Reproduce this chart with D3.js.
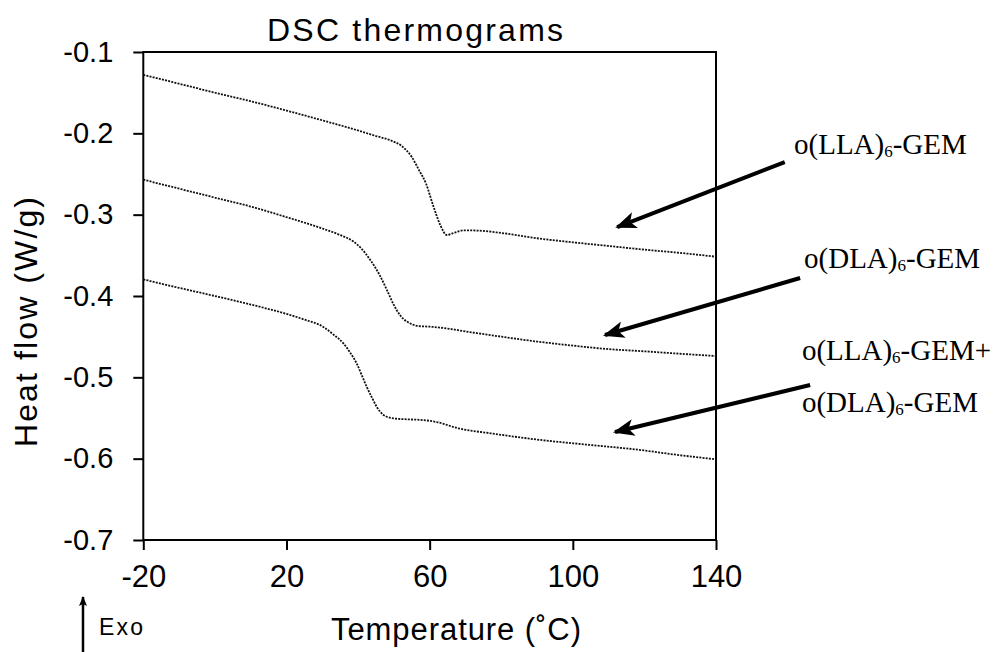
<!DOCTYPE html>
<html><head><meta charset="utf-8">
<script src="https://cdn.jsdelivr.net/npm/d3@7"></script>
<style>
html,body{margin:0;padding:0;background:#fff;}
svg{display:block;}
</style></head>
<body>
<svg id="chart" width="997" height="652"></svg>
<script>
// ---- data ----
const chartTitle = "DSC thermograms";
const xTicks = [-20, 20, 60, 100, 140];
const xTickLabels = ["-20", "20", "60", "100", "140"];
const yTicks = [-0.1, -0.2, -0.3, -0.4, -0.5, -0.6, -0.7];
const yTickLabels = ["-0.1", "-0.2", "-0.3", "-0.4", "-0.5", "-0.6", "-0.7"];

const tempLLA = [-20,-10,0,10,20,30,40,45,49,52,55,57,59,61,63,64.8,67,69.5,74,80,90,100,110,120,130,140];
const flowLLA = [-0.128,-0.139,-0.150,-0.1605,-0.172,-0.184,-0.1965,-0.2033,-0.2085,-0.215,-0.229,-0.245,-0.262,-0.289,-0.313,-0.325,-0.322,-0.3192,-0.3197,-0.3225,-0.329,-0.334,-0.3385,-0.343,-0.347,-0.3517];

const tempDLA = [-20,-10,0,10,20,30,35,38.7,41,43.3,46,48,50,51.7,54.5,57,60,65,70,80,90,100,110,120,130,140];
const flowDLA = [-0.257,-0.268,-0.279,-0.290,-0.303,-0.317,-0.325,-0.333,-0.342,-0.355,-0.374,-0.392,-0.411,-0.4234,-0.4336,-0.437,-0.4377,-0.440,-0.4435,-0.450,-0.456,-0.461,-0.4653,-0.468,-0.471,-0.4738];

const tempMix = [-20,-10,0,10,20,25,30.3,33,35.9,38,39.6,41,42.4,44,45.2,47,48,50,53.6,58,62,68,77,90,105,119,128,140];
const flowMix = [-0.3795,-0.390,-0.400,-0.4105,-0.422,-0.429,-0.438,-0.447,-0.4582,-0.471,-0.4828,-0.497,-0.5115,-0.526,-0.5361,-0.546,-0.5484,-0.5505,-0.5516,-0.5525,-0.555,-0.5627,-0.5688,-0.5765,-0.5832,-0.5894,-0.5947,-0.6008];

// annotations (data coordinates)
const labelMain = ["o(LLA)", "o(DLA)", "o(LLA)", "o(DLA)"];
const labelSub = ["6", "6", "6", "6"];
const labelTail = ["-GEM", "-GEM", "-GEM+", "-GEM"];
const labelT = [161.8, 164.6, 164.0, 164.0];
const labelV = [-0.2254, -0.3656, -0.4787, -0.5426];
const arrowFromT = [159.2, 163.5, 166.3];
const arrowFromV = [-0.2353, -0.3779, -0.5094];
const arrowToT = [112.4, 109.0, 111.8];
const arrowToV = [-0.3152, -0.448, -0.5672];

// ---- drawing ----
const svg = d3.select("#chart");
const x = d3.scaleLinear().domain([-20, 140]).range([143.3, 716]);
const y = d3.scaleLinear().domain([-0.7, -0.1]).range([540, 52]);
const sans = "Liberation Sans, Arial, sans-serif";

// title
svg.append("text").attr("x", 267).attr("y", 41)
  .attr("font-family", sans).attr("font-size", 32)
  .attr("textLength", 296).attr("lengthAdjust", "spacing")
  .text(chartTitle);

// axes
const xAxis = d3.axisBottom(x).tickValues(xTicks).tickSize(10).tickPadding(15)
  .tickFormat((d, i) => xTickLabels[i]);
const yAxis = d3.axisLeft(y).tickValues(yTicks).tickSize(10).tickPadding(20)
  .tickFormat((d, i) => yTickLabels[i]);

const gx = svg.append("g").attr("transform", "translate(0,540)").call(xAxis);
const gy = svg.append("g").attr("transform", "translate(143.3,0)").call(yAxis);
[gx, gy].forEach(g => {
  g.select(".domain").remove();
  g.selectAll(".tick line").attr("stroke", "#000").attr("stroke-width", 2);
  g.selectAll("text").attr("fill", "#000").attr("font-family", sans);
});
gx.selectAll("text").attr("font-size", 31);
gy.selectAll("text").attr("font-size", 29);

// frame
svg.append("rect").attr("x", x(-20)).attr("y", y(-0.1))
  .attr("width", x(140) - x(-20)).attr("height", y(-0.7) - y(-0.1))
  .attr("fill", "none").attr("stroke", "#000").attr("stroke-width", 2);

// curves
const line = d3.line().x(d => x(d[0])).y(d => y(d[1])).curve(d3.curveMonotoneX);
const series = [
  d3.zip(tempLLA, flowLLA),
  d3.zip(tempDLA, flowDLA),
  d3.zip(tempMix, flowMix)
];
svg.append("g").selectAll("path").data(series).join("path")
  .attr("d", line).attr("fill", "none").attr("stroke", "#111")
  .attr("stroke-width", 1.8).attr("stroke-dasharray", "2,1.2");

// axis titles
svg.append("text").attr("x", 331).attr("y", 640)
  .attr("font-family", sans).attr("font-size", 31)
  .attr("textLength", 250).attr("lengthAdjust", "spacing")
  .text("Temperature (\u02DAC)");
svg.append("text").attr("transform", "translate(37,322) rotate(-90)")
  .attr("text-anchor", "middle")
  .attr("font-family", sans).attr("font-size", 32)
  .attr("textLength", 250).attr("lengthAdjust", "spacing")
  .text("Heat flow (W/g)");

// markers
const defs = svg.append("defs");
defs.append("marker").attr("id", "head").attr("viewBox", "0 0 20 16")
  .attr("refX", 18).attr("refY", 8).attr("markerWidth", 22).attr("markerHeight", 17)
  .attr("markerUnits", "userSpaceOnUse").attr("orient", "auto")
  .append("path").attr("d", "M0,0 L20,8 L0,16 L5,8 Z").attr("fill", "#000");
defs.append("marker").attr("id", "headSmall").attr("viewBox", "0 0 10 8")
  .attr("refX", 9).attr("refY", 4).attr("markerWidth", 10).attr("markerHeight", 8)
  .attr("markerUnits", "userSpaceOnUse").attr("orient", "auto")
  .append("path").attr("d", "M0,0 L10,4 L0,8 L2,4 Z").attr("fill", "#000");

// Exo marker
svg.append("line").attr("x1", 83).attr("y1", 652).attr("x2", 83).attr("y2", 597)
  .attr("stroke", "#000").attr("stroke-width", 2.5).attr("marker-end", "url(#headSmall)");
svg.append("text").attr("x", 99).attr("y", 635)
  .attr("font-family", sans).attr("font-size", 23)
  .attr("textLength", 44).attr("lengthAdjust", "spacing").text("Exo");

// annotation arrows
svg.append("g").selectAll("line").data(arrowFromT).join("line")
  .attr("x1", (d, i) => x(arrowFromT[i])).attr("y1", (d, i) => y(arrowFromV[i]))
  .attr("x2", (d, i) => x(arrowToT[i])).attr("y2", (d, i) => y(arrowToV[i]))
  .attr("stroke", "#000").attr("stroke-width", 4).attr("marker-end", "url(#head)");

// annotation labels
const lab = svg.append("g").selectAll("text").data(labelMain).join("text")
  .attr("x", (d, i) => x(labelT[i])).attr("y", (d, i) => y(labelV[i]))
  .attr("font-family", "Liberation Serif, Times New Roman, serif").attr("font-size", 29)
  .attr("fill", "#000");
lab.append("tspan").text(d => d);
lab.append("tspan").attr("font-size", 17).attr("dy", 3).text((d, i) => labelSub[i]);
lab.append("tspan").attr("dy", -3).text((d, i) => labelTail[i]);
</script>
</body></html>
